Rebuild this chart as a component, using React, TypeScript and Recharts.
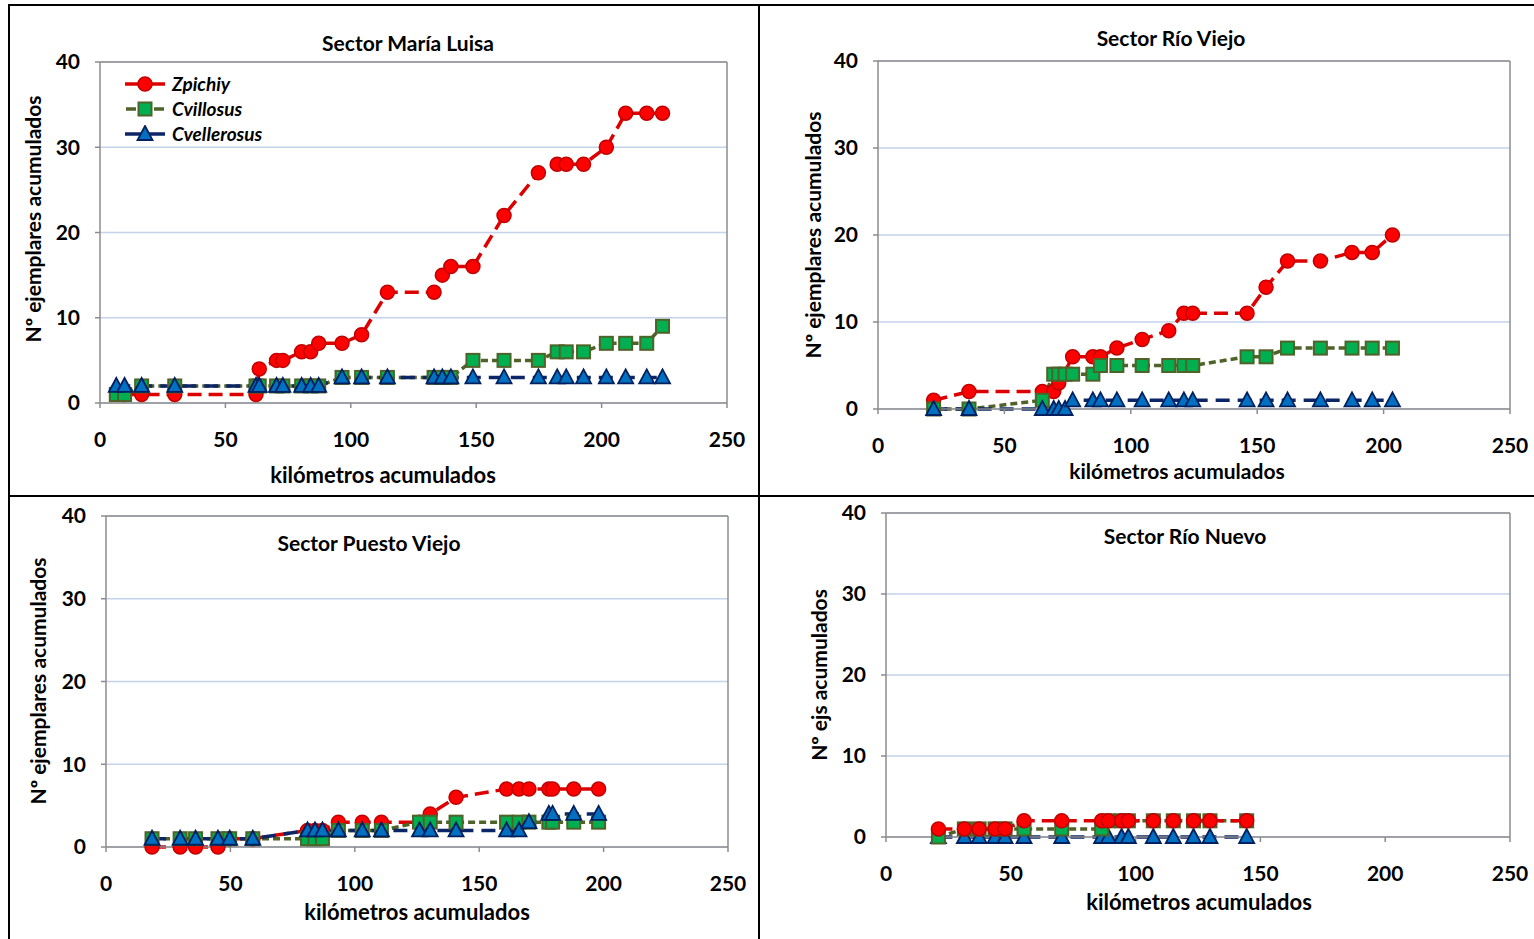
import React from "react";
import {
  LineChart,
  Line,
  XAxis,
  YAxis,
  CartesianGrid,
  ReferenceLine,
  Legend,
} from "recharts";

// Sector María Luisa
const ML_KM = [6.5, 9.8, 16.6, 29.8, 62.2, 63.5, 70.4, 72.9, 80.4, 84, 87.2, 96.5, 104.3, 114.6, 133.2, 136.5, 139.9, 148.7, 161.1, 174.8, 182.3, 185.9, 192.8, 201.9, 209.6, 218, 224.3];
const ML_ZPICHIY = [null, 1, 1, 1, 1, 4, 5, 5, 6, 6, 7, 7, 8, 13, 13, 15, 16, 16, 22, 27, 28, 28, 28, 30, 34, 34, 34];
const ML_CVILLOSUS = [1, 1, 2, 2, 2, 2, 2, 2, 2, 2, 2, 3, 3, 3, 3, 3, 3, 5, 5, 5, 6, 6, 6, 7, 7, 7, 9];
const ML_CVELLEROSUS = [2, 2, 2, 2, 2, 2, 2, 2, 2, 2, 2, 3, 3, 3, 3, 3, 3, 3, 3, 3, 3, 3, 3, 3, 3, 3, 3];

// Sector Río Viejo
const RV_KM = [22, 36, 65, 69.5, 71.5, 74, 77, 85, 88, 94.5, 104.5, 115, 121, 124.5, 146, 153.5, 162, 175, 187.5, 195.5, 203.5];
const RV_ZPICHIY = [1, 2, 2, 2, 3, null, 6, 6, 6, 7, 8, 9, 11, 11, 11, 14, 17, 17, 18, 18, 20];
const RV_CVILLOSUS = [0, 0, 1, 4, 4, 4, 4, 4, 5, 5, 5, 5, 5, 5, 6, 6, 7, 7, 7, 7, 7];
const RV_CVELLEROSUS = [0, 0, 0, 0, 0, 0, 1, 1, 1, 1, 1, 1, 1, 1, 1, 1, 1, 1, 1, 1, 1];

// Sector Puesto Viejo
const PV_KM = [18.5, 29.8, 36, 45, 49.7, 59, 81, 84, 87, 93.4, 103, 110.7, 126, 130.3, 140.7, 161, 166, 170, 178, 179.5, 188, 198];
const PV_ZPICHIY = [0, 0, 0, 0, 1, 1, 2, 2, 2, 3, 3, 3, 3, 4, 6, 7, 7, 7, 7, 7, 7, 7];
const PV_CVILLOSUS = [1, 1, 1, 1, 1, 1, 1, 1, 1, 2, 2, 2, 3, 3, 3, 3, 3, 3, 3, 3, 3, 3];
const PV_CVELLEROSUS = [1, 1, 1, 1, 1, 1, 2, 2, 2, 2, 2, 2, 2, 2, 2, 2, 2, 3, 4, 4, 4, 4];

// Sector Río Nuevo
const RN_KM = [21, 31.4, 37.3, 43.7, 47.7, 55.3, 70.4, 86.4, 89.1, 94.4, 97.1, 107.1, 115.1, 123.2, 129.8, 144.5];
const RN_ZPICHIY = [1, 1, 1, 1, 1, 2, 2, 2, 2, 2, 2, 2, 2, 2, 2, 2];
const RN_CVILLOSUS = [0, 1, 1, 1, 1, 1, 1, 1, 2, 2, 2, 2, 2, 2, 2, 2];
const RN_CVELLEROSUS = [0, 0, 0, 0, 0, 0, 0, 0, 0, 0, 0, 0, 0, 0, 0, 0];

const X_TICKS = [0, 50, 100, 150, 200, 250];
const Y_TICKS = [0, 10, 20, 30, 40];

const FONT = "Lato, 'Open Sans', sans-serif";
const AXIS_GRAY = "#8c8c8c";

const SERIES: Record<string, { name: string; line: string; dash: string; shape: string }> = {
  z: { name: "Zpichiy", line: "#dd0000", dash: "14 7", shape: "circle" },
  cv: { name: "Cvillosus", line: "#4f6228", dash: "7 4", shape: "square" },
  ce: { name: "Cvellerosus", line: "#0b2566", dash: "14 8", shape: "triangle" },
};

function Marker({ shape, cx, cy }: { shape: string; cx: number; cy: number }) {
  if (shape === "circle")
    return <circle cx={cx} cy={cy} r={7} fill="#ff0000" stroke="#c00000" strokeWidth={1.5} />;
  if (shape === "square")
    return <rect x={cx - 6.5} y={cy - 6.5} width={13} height={13} fill="#00b050" stroke="#4f6228" strokeWidth={2} />;
  return (
    <polygon
      points={`${cx},${cy - 8} ${cx + 7.5},${cy + 6} ${cx - 7.5},${cy + 6}`}
      fill="#0070c0"
      stroke="#002060"
      strokeWidth={1.8}
    />
  );
}

const makeDot = (shape: string) => (props: any) => {
  const { cx, cy, index } = props;
  if (cx == null || cy == null || props.value == null) return <g key={`e-${index}`} />;
  return (
    <g key={`${shape}-${index}`}>
      <Marker shape={shape} cx={cx} cy={cy} />
    </g>
  );
};

function LegendBox() {
  return (
    <div style={{ fontFamily: FONT, fontWeight: 700, fontStyle: "italic", fontSize: 19, color: "#000" }}>
      {["z", "cv", "ce"].map((k) => {
        const s = SERIES[k];
        return (
          <div key={k} style={{ display: "flex", alignItems: "center", height: 25 }}>
            <svg width={42} height={18} style={{ marginRight: 5 }}>
              {k === "cv" ? (
                <g>
                  <line x1={1} y1={9} x2={11} y2={9} stroke={s.line} strokeWidth={3.5} />
                  <line x1={29} y1={9} x2={39} y2={9} stroke={s.line} strokeWidth={3.5} />
                </g>
              ) : (
                <line x1={0} y1={9} x2={40} y2={9} stroke={s.line} strokeWidth={3.5} />
              )}
              <Marker shape={s.shape} cx={20} cy={9} />
            </svg>
            <span>{s.name}</span>
          </div>
        );
      })}
    </div>
  );
}

const ML = 95;
const MT = 20;
const MR = 20;
const MB = 80;

interface PanelProps {
  km: number[];
  z: (number | null)[];
  cv: (number | null)[];
  ce: (number | null)[];
  x1: number;
  y1: number;
  x2: number;
  y2: number;
  order: string[];
  legend?: boolean;
}

function Panel({ km, z, cv, ce, x1, y1, x2, y2, order, legend }: PanelProps) {
  const rows = km.map((k, i) => ({ km: k, z: z[i], cv: cv[i], ce: ce[i] }));
  const tick = { fontFamily: FONT, fontWeight: 700, fontSize: 21, fill: "#000" };
  return (
    <div style={{ position: "absolute", left: x1 - ML, top: y1 - MT }}>
      <LineChart
        width={x2 - x1 + ML + MR}
        height={y2 - y1 + MT + MB}
        data={rows}
        margin={{ top: MT, right: MR, left: ML - 40, bottom: MB - 30 }}
      >
        <CartesianGrid vertical={false} stroke="#c3d3ea" strokeWidth={1.5} />
        <XAxis
          dataKey="km"
          type="number"
          domain={[0, 250]}
          ticks={X_TICKS}
          height={30}
          tickSize={5}
          tickMargin={24}
          tick={tick}
          stroke={AXIS_GRAY}
          strokeWidth={1.5}
          interval={0}
        />
        <YAxis
          type="number"
          domain={[0, 40]}
          ticks={Y_TICKS}
          width={40}
          tickSize={5}
          tickMargin={15}
          tick={tick}
          stroke={AXIS_GRAY}
          strokeWidth={1.5}
          interval={0}
        />
        <ReferenceLine y={40} stroke={AXIS_GRAY} strokeWidth={1.5} />
        <ReferenceLine x={250} stroke={AXIS_GRAY} strokeWidth={1.5} />
        {legend && (
          <Legend
            layout="vertical"
            align="center"
            verticalAlign="middle"
            wrapperStyle={{ left: 120, top: 29, width: 200 }}
            content={() => <LegendBox />}
          />
        )}
        {order.map((k) => (
          <Line
            key={k}
            dataKey={k}
            name={SERIES[k].name}
            stroke={SERIES[k].line}
            strokeWidth={3.5}
            strokeDasharray={SERIES[k].dash}
            dot={makeDot(SERIES[k].shape)}
            activeDot={false}
            connectNulls
            isAnimationActive={false}
          />
        ))}
      </LineChart>
    </div>
  );
}

const textStyle: React.CSSProperties = {
  position: "absolute",
  fontFamily: FONT,
  fontWeight: 700,
  color: "#000",
  whiteSpace: "nowrap",
};

function Txt({ x, y, children, rotate, size }: { x: number; y: number; children: React.ReactNode; rotate?: boolean; size?: number }) {
  return (
    <div
      style={{
        ...textStyle,
        left: x,
        top: y,
        fontSize: size ?? 21,
        transform: rotate ? "translate(-50%, -50%) rotate(-90deg)" : "translate(-50%, -50%)",
      }}
    >
      {children}
    </div>
  );
}

export default function App() {
  const line = (l: number, t: number, w: number, h: number) => (
    <div style={{ position: "absolute", left: l, top: t, width: w, height: h, background: "#000" }} />
  );
  return (
    <div style={{ position: "absolute", left: 0, top: 0, width: 1534, height: 939, background: "#fff", overflow: "hidden" }}>
      {line(8, 4, 1526, 2)}
      {line(8, 4, 2, 935)}
      {line(758, 4, 2, 935)}
      {line(8, 495, 1526, 2)}

      <Panel km={ML_KM} z={ML_ZPICHIY} cv={ML_CVILLOSUS} ce={ML_CVELLEROSUS} x1={100} y1={62} x2={727} y2={403} order={["z", "cv", "ce"]} legend />
      <Panel km={RV_KM} z={RV_ZPICHIY} cv={RV_CVILLOSUS} ce={RV_CVELLEROSUS} x1={878} y1={61} x2={1510} y2={409} order={["z", "cv", "ce"]} />
      <Panel km={PV_KM} z={PV_ZPICHIY} cv={PV_CVILLOSUS} ce={PV_CVELLEROSUS} x1={106} y1={516} x2={728} y2={847} order={["z", "cv", "ce"]} />
      <Panel km={RN_KM} z={RN_ZPICHIY} cv={RN_CVILLOSUS} ce={RN_CVELLEROSUS} x1={886} y1={513} x2={1510} y2={837} order={["ce", "cv", "z"]} />

      <Txt x={408} y={42}>Sector María Luisa</Txt>
      <Txt x={1171} y={37}>Sector Río Viejo</Txt>
      <Txt x={369} y={542}>Sector Puesto Viejo</Txt>
      <Txt x={1185} y={535}>Sector Río Nuevo</Txt>

      <Txt x={383} y={474} size={22}>kilómetros acumulados</Txt>
      <Txt x={1177} y={470} size={21}>kilómetros acumulados</Txt>
      <Txt x={417} y={911} size={22}>kilómetros acumulados</Txt>
      <Txt x={1199} y={901} size={22}>kilómetros acumulados</Txt>

      <Txt x={32} y={219} rotate>Nº ejemplares acumulados</Txt>
      <Txt x={812} y={235} rotate>Nº ejemplares acumulados</Txt>
      <Txt x={37} y={681} rotate>Nº ejemplares acumulados</Txt>
      <Txt x={818} y={675} rotate>Nº ejs acumulados</Txt>
    </div>
  );
}
